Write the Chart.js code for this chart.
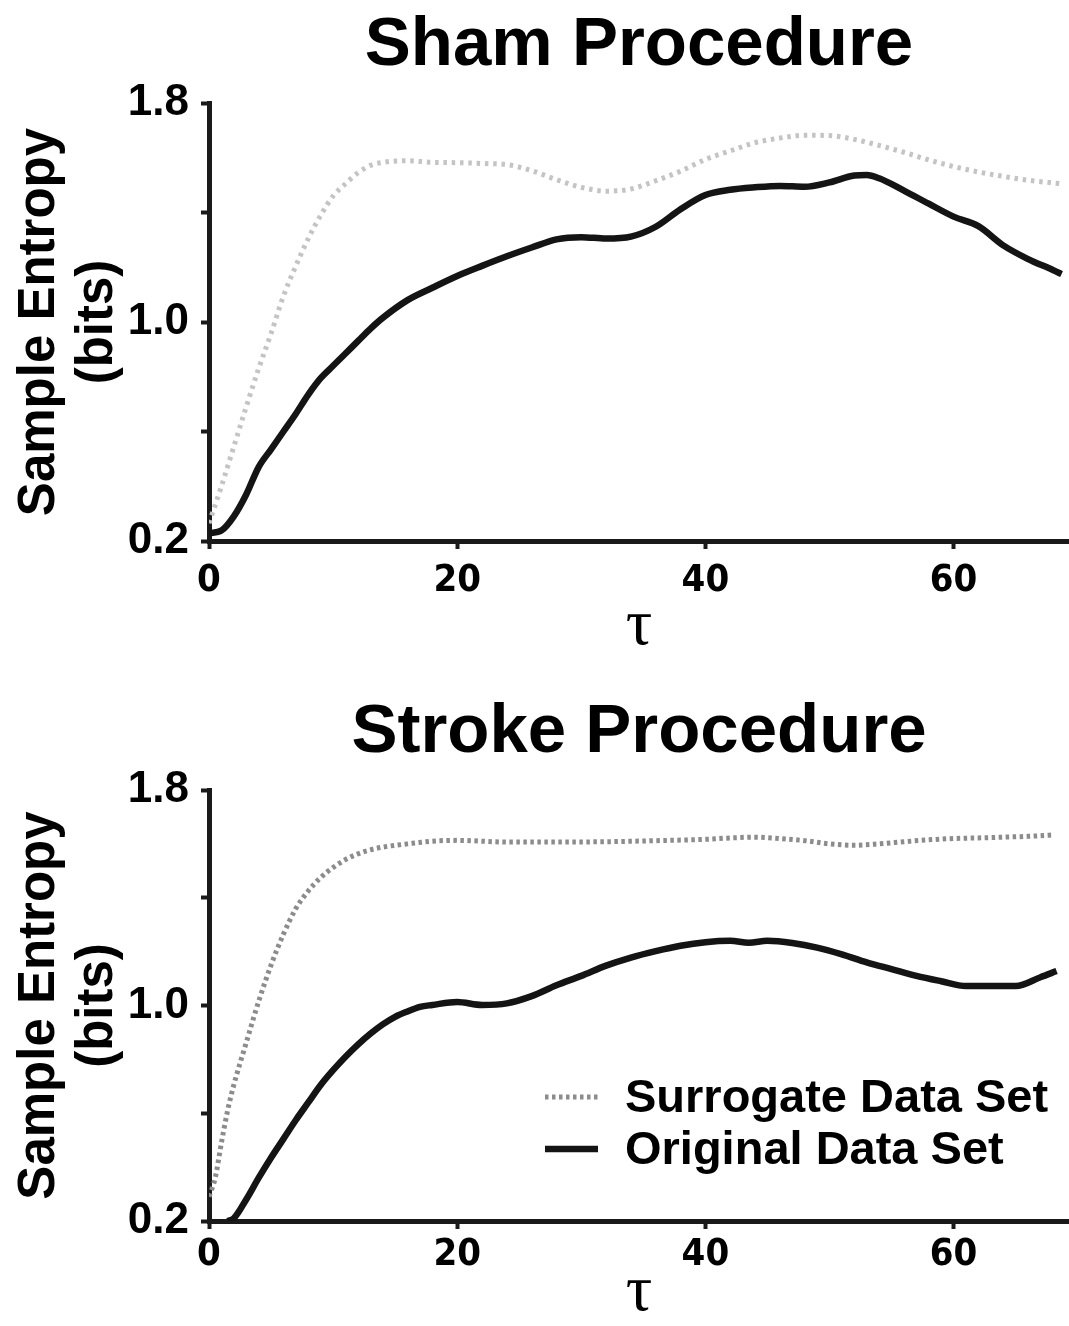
<!DOCTYPE html>
<html><head><meta charset="utf-8">
<script src="https://cdn.jsdelivr.net/npm/chart.js@4.4.0/dist/chart.umd.min.js"></script>
<style>
html,body{margin:0;padding:0;background:#fff;width:1069px;height:1326px;overflow:hidden}
canvas{position:absolute;left:0}
#c1{top:0}
#c2{top:660px}
</style></head><body>
<canvas id="c1" width="1069" height="660"></canvas>
<canvas id="c2" width="1069" height="666"></canvas>
<script>
// ---- text ----
const panelTitles = ['Sham Procedure', 'Stroke Procedure'];
const yAxisTitle = ['Sample Entropy', '(bits)'];
const xAxisTitle = 'τ';
const seriesNames = ['Surrogate Data Set', 'Original Data Set'];

// ---- ticks ----
const xTickValues = [0, 20, 40, 60];
const yTickValues = [0.2, 0.6, 1.0, 1.4, 1.8];
const yLabeledTicks = [0.2, 1.0, 1.8];

// ---- Sham procedure ----
const shamOrigTau = [0,1,2,3,4,5,6,7,8,9,10,11,12,13,14,16,18,20,22,24,26,28,30,32,34,36,38,40,42,44,46,48,50,52,53,54,56,58,60,62,64,66,68,68.7];
const shamOrig = [0.228,0.238,0.29,0.37,0.47,0.535,0.60,0.665,0.735,0.795,0.84,0.885,0.93,0.975,1.015,1.08,1.125,1.168,1.205,1.24,1.272,1.302,1.31,1.305,1.312,1.348,1.412,1.464,1.483,1.492,1.497,1.494,1.51,1.535,1.537,1.525,1.48,1.432,1.385,1.35,1.28,1.23,1.19,1.175];
const shamSurrTau = [0,1,2,3,4,5,6,7,8,9,10,11,12,13,14,16,18,20,22,24,26,28,30,32,34,36,38,40,42,44,46,48,50,52,54,56,58,60,62,64,66,68,68.7];
const shamSurr = [0.265,0.40,0.545,0.69,0.83,0.958,1.095,1.205,1.305,1.39,1.46,1.505,1.545,1.572,1.583,1.589,1.583,1.582,1.579,1.575,1.553,1.52,1.492,1.478,1.486,1.516,1.551,1.594,1.625,1.655,1.672,1.682,1.681,1.667,1.645,1.62,1.592,1.568,1.548,1.532,1.518,1.508,1.505];

// ---- Stroke procedure ----
const strokeOrigTau = [1.5,2,3,4,5,6,7,8,9,10,11,12,13,14,15,16,17,18,20,22,24,26,28,30,32,34,36,38,40,42,43.5,45,47,49,51,53,55,57,59,61,63,65,67,68.3];
const strokeOrig = [0.2,0.21,0.28,0.36,0.435,0.505,0.575,0.64,0.705,0.76,0.81,0.855,0.895,0.93,0.958,0.978,0.995,1.002,1.013,1.002,1.008,1.035,1.075,1.11,1.148,1.178,1.202,1.222,1.235,1.24,1.233,1.24,1.232,1.215,1.19,1.16,1.135,1.11,1.09,1.072,1.072,1.072,1.105,1.128];
const strokeSurrTau = [0,0.5,1,1.5,2,3,4,5,6,7,8,9,10,11,12,13,14,16,18,20,24,28,32,36,40,42,44,46,48,50,52,54,56,58,60,62,64,66,68];
const strokeSurr = [0.29,0.36,0.49,0.61,0.705,0.862,1.015,1.15,1.265,1.36,1.425,1.475,1.512,1.542,1.563,1.578,1.588,1.60,1.61,1.613,1.607,1.607,1.608,1.612,1.617,1.622,1.625,1.62,1.612,1.60,1.595,1.60,1.608,1.615,1.62,1.622,1.625,1.628,1.633];

// ---- helpers ----
const zip = (xs, ys) => xs.map((x, i) => ({ x: x, y: ys[i] }));
const SANS = '"Liberation Sans", Arial, Helvetica, sans-serif';

function fontAvailable(name) {
  const c = document.createElement('canvas').getContext('2d');
  c.font = 'bold 40px monospace';
  const a = c.measureText('0123456789abc').width;
  c.font = 'bold 40px "' + name + '", monospace';
  return c.measureText('0123456789abc').width !== a;
}
let xTickFont = { family: SANS, size: 38, weight: 'bold' };
if (fontAvailable('Liberation Sans Narrow')) xTickFont = { family: '"Liberation Sans Narrow", ' + SANS, size: 41, weight: 'bold' };
else if (fontAvailable('DejaVu Sans Condensed')) xTickFont = { family: '"DejaVu Sans Condensed", ' + SANS, size: 38, weight: 'bold' };

const panelTitlePlugin = {
  id: 'panelTitle',
  afterDraw(chart, args, opts) {
    const { ctx, chartArea } = chart;
    ctx.save();
    ctx.font = 'bold 69px ' + SANS;
    ctx.fillStyle = '#000';
    ctx.textAlign = 'center';
    ctx.textBaseline = 'alphabetic';
    ctx.fillText(opts.text, (chartArea.left + chartArea.right) / 2, opts.baseline);
    ctx.restore();
  }
};

const innerLegendPlugin = {
  id: 'innerLegend',
  afterDraw(chart, args, opts) {
    if (!opts.show) return;
    const ctx = chart.ctx;
    chart.data.datasets.forEach((ds, i) => {
      const y = opts.lineY[i];
      ctx.save();
      ctx.strokeStyle = ds.borderColor;
      ctx.lineWidth = ds.borderWidth;
      ctx.setLineDash(ds.borderDash || []);
      ctx.beginPath();
      ctx.moveTo(opts.x0, y);
      ctx.lineTo(opts.x1, y);
      ctx.stroke();
      ctx.setLineDash([]);
      ctx.font = 'bold 47px ' + SANS;
      ctx.fillStyle = '#000';
      ctx.textAlign = 'left';
      ctx.textBaseline = 'alphabetic';
      ctx.fillText(ds.label, opts.textX, opts.textBaseline[i]);
      ctx.restore();
    });
  }
};

function makeChart(canvasId, p) {
  const axisColor = '#1a1a1a';
  return new Chart(document.getElementById(canvasId), {
    type: 'line',
    data: {
      datasets: [
        { label: seriesNames[0], data: zip(p.surrTau, p.surr), borderColor: p.surrColor, borderWidth: 5,
          borderDash: p.surrDash, borderCapStyle: 'butt', pointRadius: 0, cubicInterpolationMode: 'monotone', fill: false },
        { label: seriesNames[1], data: zip(p.origTau, p.orig), borderColor: '#141414', borderWidth: 6.5,
          pointRadius: 0, cubicInterpolationMode: 'monotone', fill: false }
      ]
    },
    options: {
      responsive: false, animation: false, devicePixelRatio: 1,
      layout: { padding: { top: p.areaTop, left: 0, right: 0, bottom: 0 } },
      plugins: {
        legend: { display: false }, tooltip: { enabled: false },
        panelTitle: { text: p.title, baseline: p.titleBaseline },
        innerLegend: p.legend
      },
      scales: {
        x: {
          type: 'linear', min: 0, max: 69.3,
          afterFit: s => { s.height = p.xAxisHeight; },
          afterBuildTicks: s => { s.ticks = xTickValues.map(v => ({ value: v })); },
          border: { display: true, color: axisColor, width: 5 },
          grid: { display: true, drawOnChartArea: false, drawTicks: true, tickLength: 8, tickWidth: 4, tickColor: axisColor },
          ticks: { font: xTickFont, color: '#000', padding: p.xTickPad, maxRotation: 0, autoSkip: false, callback: v => String(v) },
          title: { display: true, text: xAxisTitle, color: '#000',
                   font: { family: '"Liberation Serif", "DejaVu Serif", serif', size: 66, lineHeight: 1 },
                   padding: { top: 0, bottom: p.tauPad } }
        },
        y: {
          type: 'linear', min: 0.2, max: 1.8,
          afterFit: s => { s.width = 209; },
          afterBuildTicks: s => { s.ticks = yTickValues.map(v => ({ value: v })); },
          border: { display: true, color: axisColor, width: 5 },
          grid: { display: true, drawOnChartArea: false, drawTicks: true, tickLength: 8, tickWidth: 4, tickColor: axisColor },
          ticks: { font: { family: SANS, size: 44, weight: 'bold' }, color: '#000', padding: 12,
                   callback: v => yLabeledTicks.some(l => Math.abs(l - v) < 1e-6) ? v.toFixed(1) : '' },
          title: { display: true, text: yAxisTitle, color: '#000',
                   font: { family: SANS, size: 51, weight: 'bold', lineHeight: 1.14 },
                   padding: { top: 11, bottom: 0 } }
        }
      }
    },
    plugins: [panelTitlePlugin, innerLegendPlugin]
  });
}

makeChart('c1', {
  title: panelTitles[0], titleBaseline: 65, areaTop: 103, xAxisHeight: 119, xTickPad: 9, tauPad: 0,
  origTau: shamOrigTau, orig: shamOrig, surrTau: shamSurrTau, surr: shamSurr,
  surrColor: '#c4c4c4', surrDash: [3.5, 4.8],
  legend: { show: false }
});
makeChart('c2', {
  title: panelTitles[1], titleBaseline: 92, areaTop: 130, xAxisHeight: 105, xTickPad: 3, tauPad: 0,
  origTau: strokeOrigTau, orig: strokeOrig, surrTau: strokeSurrTau, surr: strokeSurr,
  surrColor: '#8c8c8c', surrDash: [3.5, 3.5],
  legend: { show: true, x0: 545, x1: 598, lineY: [437, 489], textX: 625, textBaseline: [452, 504] }
});
</script>
</body></html>
